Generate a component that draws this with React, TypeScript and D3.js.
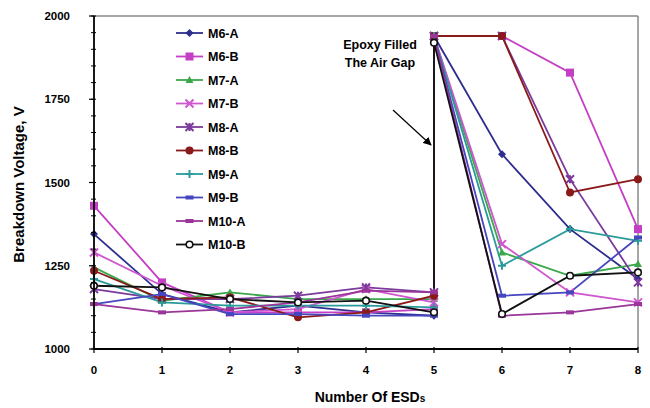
import React from "react";
import * as d3 from "d3";

// Sample x positions: two readings at ESD 5 (before and after epoxy fill)
const esdCounts = [0, 1, 2, 3, 4, 5, 5, 6, 7, 8];

const seriesNames = ["M6-A", "M6-B", "M7-A", "M7-B", "M8-A", "M8-B", "M9-A", "M9-B", "M10-A", "M10-B"];

const m6a = [1345, 1165, 1110, 1130, 1110, 1100, 1940, 1585, 1360, 1210];
const m6b = [1430, 1200, 1110, 1110, 1110, 1120, 1940, 1940, 1830, 1360];
const m7a = [1245, 1145, 1170, 1150, 1150, 1150, 1940, 1290, 1220, 1255];
const m7b = [1290, 1190, 1110, 1120, 1180, 1140, 1940, 1315, 1170, 1140];
const m8a = [1180, 1150, 1150, 1160, 1185, 1170, 1940, 1940, 1510, 1200];
const m8b = [1235, 1150, 1155, 1095, 1110, 1160, 1940, 1940, 1470, 1510];
const m9a = [1210, 1140, 1130, 1130, 1130, 1125, 1940, 1250, 1360, 1325];
const m9b = [1135, 1165, 1105, 1105, 1100, 1100, 1940, 1160, 1170, 1335];
const m10a = [1135, 1110, 1120, 1140, 1175, 1170, 1940, 1100, 1110, 1135];
const m10b = [1190, 1185, 1150, 1140, 1145, 1110, 1920, 1105, 1220, 1230];

const seriesValues = [m6a, m6b, m7a, m7b, m8a, m8b, m9a, m9b, m10a, m10b];

const xTicks = [0, 1, 2, 3, 4, 5, 6, 7, 8];
const yTicks = [1000, 1250, 1500, 1750, 2000];

const colors = ["#2e2e8e", "#c53fc5", "#3aa84a", "#d055d0", "#7b3a9c", "#8a1a1a", "#2a9a9a", "#4646c0", "#9a359a", "#111111"];
type Marker = "diamond" | "square" | "triangle" | "x" | "star" | "circle" | "plus" | "dash" | "open";
const markers: Marker[] = ["diamond", "square", "triangle", "x", "star", "circle", "plus", "dash", "dash", "open"];

const W = 650;
const H = 408;
const left = 94;
const right = 638;
const top = 16;
const bottom = 349;

const FONT = "Liberation Sans, Arial, sans-serif";

function MarkerShape({ type, cx, cy, color }: { type: Marker; cx: number; cy: number; color: string }) {
  const s = 4;
  switch (type) {
    case "diamond":
      return <path d={`M${cx},${cy - s}L${cx + s},${cy}L${cx},${cy + s}L${cx - s},${cy}Z`} fill={color} />;
    case "square":
      return <rect x={cx - s} y={cy - s} width={2 * s} height={2 * s} fill={color} />;
    case "triangle":
      return <path d={`M${cx},${cy - s}L${cx + s},${cy + s - 1}L${cx - s},${cy + s - 1}Z`} fill={color} />;
    case "x":
      return (
        <path d={`M${cx - s},${cy - s}L${cx + s},${cy + s}M${cx - s},${cy + s}L${cx + s},${cy - s}`} stroke={color} strokeWidth={2} />
      );
    case "star":
      return (
        <path
          d={`M${cx - s},${cy - s}L${cx + s},${cy + s}M${cx - s},${cy + s}L${cx + s},${cy - s}M${cx},${cy - s}L${cx},${cy + s}`}
          stroke={color}
          strokeWidth={2}
        />
      );
    case "circle":
      return <circle cx={cx} cy={cy} r={s} fill={color} />;
    case "plus":
      return <path d={`M${cx - s},${cy}L${cx + s},${cy}M${cx},${cy - s}L${cx},${cy + s}`} stroke={color} strokeWidth={2} />;
    case "dash":
      return <rect x={cx - s} y={cy - 2} width={2 * s} height={4} fill={color} />;
    case "open":
      return <circle cx={cx} cy={cy} r={3.3} fill="#fff" stroke={color} strokeWidth={1.6} />;
  }
}

export default function App() {
  const x = d3.scaleLinear().domain([0, 8]).range([left, right]);
  const y = d3.scaleLinear().domain([1000, 2000]).range([bottom, top]);
  const line = d3
    .line<number>()
    .x((_, i) => x(esdCounts[i]))
    .y((v) => y(v));

  const minorTicks = d3.range(1000, 2001, 50);

  return (
    <svg width={W} height={H} style={{ position: "absolute", left: 0, top: 0, background: "#fff" }} fontFamily={FONT}>
      {/* frame */}
      <line x1={left} y1={top} x2={right} y2={top} stroke="#888" strokeWidth={1.5} />
      <line x1={right} y1={top} x2={right} y2={bottom} stroke="#888" strokeWidth={1.5} />

      {/* series */}
      {seriesValues.map((vals, si) => (
        <g key={seriesNames[si]}>
          <path d={line(vals) || ""} fill="none" stroke={colors[si]} strokeWidth={1.8} />
        </g>
      ))}
      {seriesValues.map((vals, si) => (
        <g key={seriesNames[si] + "-m"}>
          {vals.map((v, i) => (
            <MarkerShape key={i} type={markers[si]} cx={x(esdCounts[i])} cy={y(v)} color={colors[si]} />
          ))}
        </g>
      ))}

      {/* axes */}
      <line x1={left} y1={top} x2={left} y2={bottom} stroke="#000" strokeWidth={1.8} />
      <line x1={left} y1={bottom} x2={right} y2={bottom} stroke="#000" strokeWidth={1.8} />
      {minorTicks.map((t) => (
        <line key={t} x1={left - 3} x2={left + 2} y1={y(t)} y2={y(t)} stroke="#000" strokeWidth={1} />
      ))}
      {yTicks.map((t) => (
        <g key={t}>
          <line x1={left - 5} x2={left} y1={y(t)} y2={y(t)} stroke="#000" strokeWidth={1.2} />
          <text x={70} y={y(t) + 4} textAnchor="end" fontSize={11.5} fontWeight="bold">
            {t}
          </text>
        </g>
      ))}
      {xTicks.map((t) => (
        <g key={t}>
          <line x1={x(t)} x2={x(t)} y1={bottom - 2} y2={bottom + 4} stroke="#000" strokeWidth={1.2} />
          <text x={x(t)} y={374} textAnchor="middle" fontSize={11.5} fontWeight="bold">
            {t}
          </text>
        </g>
      ))}

      {/* axis titles */}
      <text x={370} y={402} textAnchor="middle" fontSize={14} fontWeight="bold">
        Number Of ESD<tspan fontSize={10}>s</tspan>
      </text>
      <text transform={`translate(24,${(top + bottom) / 2 + 2}) rotate(-90)`} textAnchor="middle" fontSize={15} fontWeight="bold">
        Breakdown Voltage, V
      </text>

      {/* legend */}
      {seriesNames.map((name, i) => {
        const ly = 33 + i * 23.5;
        return (
          <g key={name}>
            <line x1={176} x2={203} y1={ly} y2={ly} stroke={colors[i]} strokeWidth={1.8} />
            <MarkerShape type={markers[i]} cx={189.5} cy={ly} color={colors[i]} />
            <text x={208} y={ly + 4.5} fontSize={12.5} fontWeight="bold">
              {name}
            </text>
          </g>
        );
      })}

      {/* annotation */}
      <text x={380} y={49} textAnchor="middle" fontSize={12.5} fontWeight="bold">
        Epoxy Filled
      </text>
      <text x={380} y={67} textAnchor="middle" fontSize={12.5} fontWeight="bold">
        The Air Gap
      </text>
      <defs>
        <marker id="arrowHead" viewBox="0 0 10 10" refX={9} refY={5} markerWidth={7} markerHeight={7} orient="auto">
          <path d="M0,0L10,5L0,10Z" fill="#000" />
        </marker>
      </defs>
      <line x1={393} y1={110} x2={431} y2={145} stroke="#000" strokeWidth={1.2} markerEnd="url(#arrowHead)" />
    </svg>
  );
}
